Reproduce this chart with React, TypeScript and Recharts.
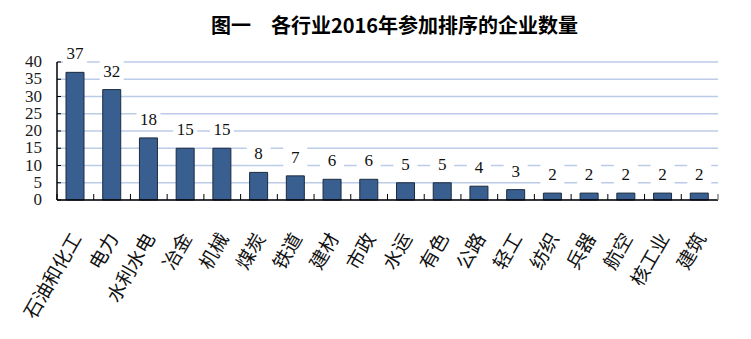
import { BarChart, Bar, XAxis, YAxis, CartesianGrid, LabelList } from "recharts";

const industries = [
  "石油和化工", "电力", "水利水电", "冶金", "机械", "煤炭", "铁道", "建材", "市政",
  "水运", "有色", "公路", "轻工", "纺织", "兵器", "航空", "核工业", "建筑",
];
const counts = [37, 32, 18, 15, 15, 8, 7, 6, 6, 5, 5, 4, 3, 2, 2, 2, 2, 2];
const yTicks = [0, 5, 10, 15, 20, 25, 30, 35, 40];

const data = industries.map((name, i) => ({ name, value: counts[i] }));

const W = 751;
const H = 339;
const margin = { top: 62, right: 33, left: 0, bottom: 0 };
const Y_WIDTH = 57;
const band = (W - margin.left - margin.right - Y_WIDTH) / data.length;

const numFont = "'Liberation Serif', 'DejaVu Serif', serif";
const cjkFont = "'Noto Sans CJK SC', sans-serif";

const YTick = (props: any) => {
  const { x, y, payload } = props;
  return (
    <g>
      <line x1={x + 15} x2={x + 19} y1={y} y2={y} stroke="#000" strokeWidth={1} />
      <text x={x} y={y} dy={5} textAnchor="end" fontSize={17} fontFamily={numFont} fill="#1a1a1a">
        {payload.value}
      </text>
    </g>
  );
};

const XTick = (props: any) => {
  const { x, y, payload, index } = props;
  const last = index === data.length - 1;
  return (
    <g>
      <line x1={x - band / 2} x2={x - band / 2} y1={y} y2={y - 6} stroke="#000" strokeWidth={1} />
      {last && (
        <line x1={x + band / 2} x2={x + band / 2} y1={y} y2={y - 6} stroke="#888" strokeWidth={1.5} />
      )}
      <text
        x={0}
        y={0}
        transform={`translate(${x + 7},${y + 38}) rotate(-60)`}
        textAnchor="end"
        fontSize={19}
        fontFamily={cjkFont}
        fill="#111"
      >
        {payload.value}
      </text>
    </g>
  );
};

const ValueLabel = (props: any) => {
  const { x, y, width, value } = props;
  const cx = x + width / 2;
  const cy = y - 19;
  return (
    <g>
      <rect x={cx - 12} y={cy - 11} width={24} height={22} fill="#fff" />
      <text x={cx} y={cy} dy={6} textAnchor="middle" fontSize={17} fontFamily={numFont} fill="#111">
        {value}
      </text>
    </g>
  );
};

export default function App() {
  return (
    <div style={{ position: "absolute", left: 0, top: 0, width: W, height: H, background: "#fff" }}>
      <div
        style={{
          position: "absolute",
          top: 12,
          left: 0,
          width: W,
          textAlign: "center",
          fontFamily: cjkFont,
          fontWeight: "bold",
          fontSize: 20,
          lineHeight: "26px",
          color: "#000",
          paddingLeft: 38,
          boxSizing: "border-box",
        }}
      >
        图一　各行业2016年参加排序的企业数量
      </div>
      <BarChart width={W} height={H} data={data} margin={margin} barCategoryGap={0}>
        <CartesianGrid vertical={false} stroke="#bccbe8" strokeWidth={1.5} />
        <XAxis
          dataKey="name"
          interval={0}
          height={139}
          tickLine={false}
          tickSize={0}
          tickMargin={0}
          axisLine={{ stroke: "#000", strokeWidth: 1.5 }}
          tick={<XTick />}
        />
        <YAxis
          width={Y_WIDTH}
          domain={[0, 40]}
          ticks={yTicks}
          interval={0}
          tickLine={false}
          tickSize={0}
          tickMargin={15}
          axisLine={{ stroke: "#000", strokeWidth: 1.5 }}
          tick={<YTick />}
        />
        <Bar dataKey="value" fill="#385f8f" stroke="#1c2b3f" strokeWidth={1} barSize={18} isAnimationActive={false}>
          <LabelList dataKey="value" content={<ValueLabel />} />
        </Bar>
      </BarChart>
    </div>
  );
}
